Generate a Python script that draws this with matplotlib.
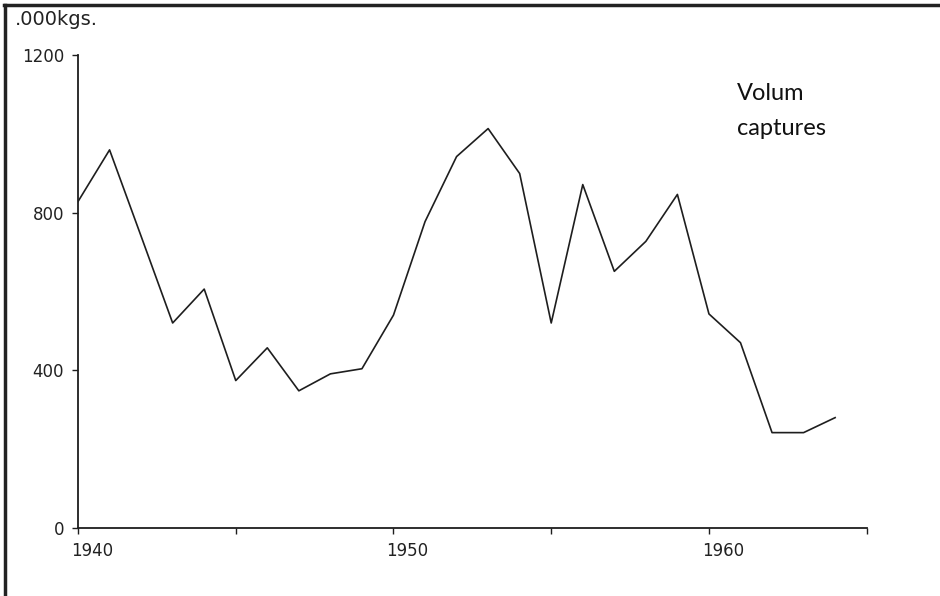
import matplotlib.pyplot as plt
from matplotlib.lines import Line2D
from matplotlib.transforms import ScaledTranslation

years = list(range(1940, 1965))
catch = [828, 959, 740, 520, 606, 374, 457, 348, 391, 404,
         540, 777, 942, 1013, 899, 520, 871, 651, 727, 846,
         543, 470, 242, 242, 280]

x_ticks = [1940, 1945, 1950, 1955, 1960, 1965]
x_labels = ["1940", "", "1950", "", "1960", ""]
y_ticks = [0, 400, 800, 1200]
y_labels = ["0", "400", "800", "1200"]


def main():
    fig = plt.figure(figsize=(9.4, 5.96), dpi=100)
    ax = fig.add_axes([0.083, 0.114, 0.839, 0.794])

    ax.plot(years, catch, color="#1e1e1e", linewidth=1.2)

    ax.set_xlim(1940, 1965)
    ax.set_ylim(0, 1200)
    ax.spines["top"].set_visible(False)
    ax.spines["right"].set_visible(False)
    for s in ["left", "bottom"]:
        ax.spines[s].set_linewidth(1.3)
        ax.spines[s].set_color("#1e1e1e")

    ax.set_xticks(x_ticks)
    ax.set_xticklabels(x_labels, fontsize=12, family="DejaVu Sans",
                       color="#222222")
    ax.set_yticks(y_ticks)
    ax.set_yticklabels(y_labels, fontsize=12, family="DejaVu Sans",
                       color="#222222")
    ax.tick_params(axis="both", length=4, width=1, color="#1e1e1e")
    ax.tick_params(axis="x", pad=6)
    ax.tick_params(axis="y", pad=6)
    offset = ScaledTranslation(-7 / 100, 0, fig.dpi_scale_trans)
    for lab in ax.get_xticklabels():
        lab.set_horizontalalignment("left")
        lab.set_transform(lab.get_transform() + offset)

    fig.text(0.016, 0.968, ".000kgs.", fontsize=14, family="DejaVu Sans",
             color="#222222", ha="left", va="center")
    fig.text(0.784, 0.814, "Volum\ncaptures", fontsize=17, family="Lato",
             color="#111111", ha="left", va="center", linespacing=1.85)

    # scan border (top and left)
    fig.add_artist(Line2D([0.004, 1.0], [0.992, 0.992], color="#222222",
                          linewidth=2.5, transform=fig.transFigure))
    fig.add_artist(Line2D([0.005, 0.005], [0.0, 0.992], color="#222222",
                          linewidth=2.5, transform=fig.transFigure))

    plt.savefig("out.png", dpi=100)


if __name__ == "__main__":
    main()
